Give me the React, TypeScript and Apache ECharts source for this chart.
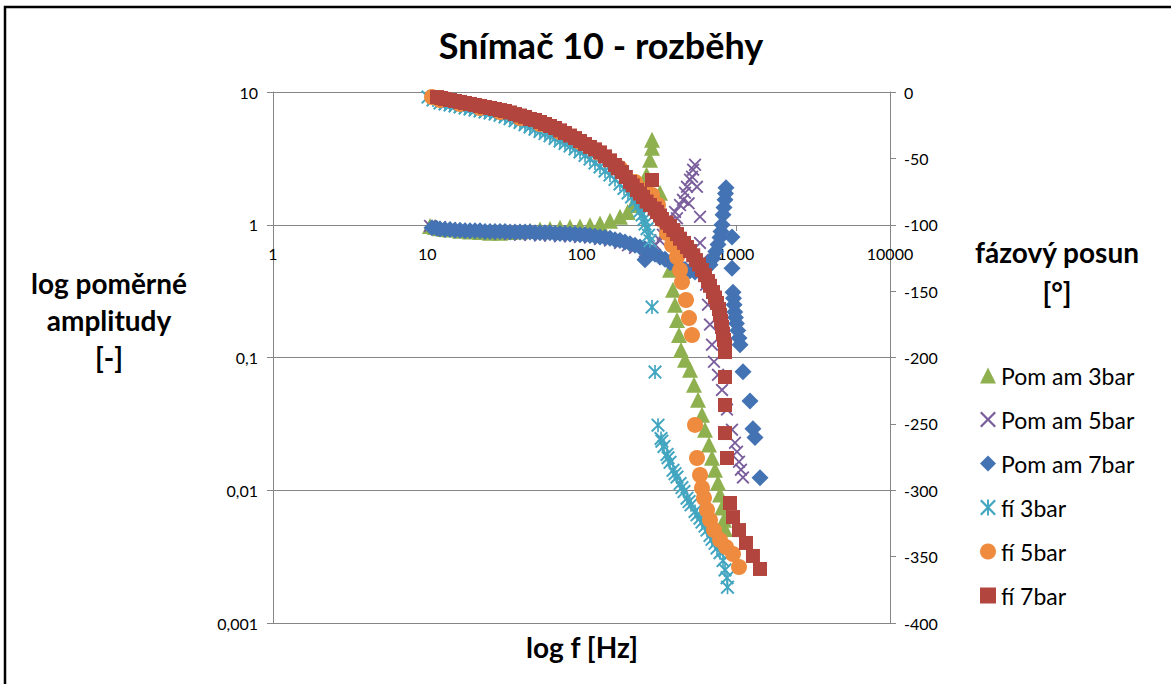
import React, { useEffect, useRef } from "react";
import * as echarts from "echarts";

const chartTitle = "Snímač 10 - rozběhy";
const seriesNames = ["Pom am 3bar", "Pom am 5bar", "Pom am 7bar", "fí 3bar", "fí 5bar", "fí 7bar"];
const seriesColors = ["#8FB04F", "#7A5E9C", "#4473B4", "#43A6C0", "#EE8B3E", "#B3453F"];
const freqTickLabels = ["1", "10", "100", "1000", "10000"];
const ampTickLabels = ["0,001", "0,01", "0,1", "1", "10"];
const leftAxisName = ["log poměrné", "amplitudy", "[-]"];
const rightAxisName = ["fázový posun", "[°]"];
const bottomAxisName = "log f [Hz]";

// Pom am 3bar (amplitude ratio, left log axis)
const pomAm3Freq = [10.42, 11.22, 12.1, 13.04, 14.05, 16.31, 18.93, 21.98, 25.52, 29.63, 34.4, 39.94, 46.37, 53.83, 62.5, 72.55, 84.23, 97.79, 113.5, 131.8, 153, 177.6, 199, 215, 231, 247, 264, 278, 286.5, 286.5, 322.8, 352, 374.8, 391.9, 403.9, 415.9, 428.7, 441.8, 468.9, 505.3, 536, 569, 604.2, 631.9, 670.8, 701.5, 733.7, 767, 790.6, 814.6, 838.9, 851.9];
const pomAm3Val = [0.98, 0.96, 0.94, 0.93, 0.92, 0.9, 0.89, 0.88, 0.87, 0.87, 0.88, 0.89, 0.9, 0.92, 0.93, 0.95, 0.96, 0.97, 0.99, 1.02, 1.07, 1.15, 1.25, 1.41, 1.65, 1.97, 2.38, 3.09, 3.8, 4.37, 1.74, 0.9, 0.458, 0.324, 0.25, 0.192, 0.148, 0.114, 0.096, 0.081, 0.0623, 0.048, 0.037, 0.0286, 0.0221, 0.0176, 0.0143, 0.0114, 0.0093, 0.0074, 0.006, 0.0051];

// Pom am 5bar
const pomAm5Freq = [10.42, 12.1, 14.05, 16.31, 18.93, 21.98, 25.52, 29.63, 34.4, 39.94, 46.37, 53.83, 62.5, 72.55, 84.23, 97.79, 113.5, 131.8, 153, 177.6, 200, 222.3, 258, 278, 299.6, 322.8, 337, 374.8, 403.9, 416, 435.2, 455, 468.9, 483, 495, 505.3, 521, 529, 544.4, 560, 586.6, 586.6, 613.5, 641.6, 660.9, 681, 701.5, 722.7, 767, 814.6, 877.6, 945.6, 988.8, 1018.8, 1050, 1081, 1114];
const pomAm5Val = [0.98, 0.96, 0.94, 0.93, 0.91, 0.89, 0.87, 0.86, 0.85, 0.84, 0.84, 0.83, 0.83, 0.82, 0.82, 0.81, 0.8, 0.78, 0.76, 0.73, 0.7, 0.67, 0.63, 0.66, 0.71, 0.76, 0.84, 1.05, 1.25, 1.12, 1.41, 1.54, 1.74, 1.93, 1.45, 2.18, 2.3, 2.6, 2.83, 1.93, 1.15, 0.73, 0.545, 0.353, 0.25, 0.177, 0.125, 0.093, 0.074, 0.057, 0.0405, 0.0286, 0.0228, 0.0195, 0.0164, 0.0143, 0.0125];

// Pom am 7bar
const pomAm7Freq = [10.73, 11.5, 12.1, 13.04, 14.05, 15.13, 16.31, 17.57, 18.93, 20.39, 21.98, 23.68, 25.52, 27.5, 29.63, 31.92, 34.4, 37.07, 39.94, 43.02, 46.37, 49.94, 53.83, 57.99, 62.5, 67.33, 72.55, 78.17, 84.23, 90.77, 97.79, 105.4, 113.5, 122.3, 131.8, 142, 153, 164.9, 177.6, 191.4, 206.2, 222.3, 239.4, 258, 258, 278, 299.6, 322.8, 347.8, 374.8, 403.9, 435.2, 468.9, 505.3, 544.4, 586.6, 631.9, 681, 712, 742, 767, 790.6, 802.5, 814.6, 826.7, 839, 851.9, 858, 864.8, 945.6, 945.6, 960, 967, 975, 985, 995, 1010, 1030, 1050, 1066, 1114, 1237, 1293, 1333, 1436];
const pomAm7Val = [0.95, 0.94, 0.93, 0.92, 0.92, 0.91, 0.91, 0.9, 0.9, 0.9, 0.9, 0.89, 0.89, 0.89, 0.89, 0.89, 0.88, 0.88, 0.88, 0.88, 0.88, 0.87, 0.87, 0.87, 0.87, 0.86, 0.86, 0.86, 0.85, 0.85, 0.84, 0.84, 0.83, 0.82, 0.81, 0.8, 0.79, 0.77, 0.76, 0.74, 0.72, 0.7, 0.68, 0.545, 0.66, 0.63, 0.6, 0.57, 0.55, 0.52, 0.5, 0.48, 0.46, 0.45, 0.44, 0.44, 0.46, 0.5, 0.56, 0.63, 0.71, 0.8, 0.89, 1.0, 1.19, 1.35, 1.54, 1.72, 1.9, 0.81, 0.47, 0.31, 0.28, 0.25, 0.22, 0.2, 0.18, 0.16, 0.14, 0.125, 0.078, 0.047, 0.029, 0.025, 0.0124];

// fí 3bar (phase, right axis)
const fi3Freq = [10.11, 10.9, 12.1, 13.04, 14.05, 15.13, 16.31, 17.57, 18.93, 20.39, 21.98, 23.68, 25.52, 27.5, 29.63, 31.92, 34.4, 37.07, 39.94, 43.02, 46.37, 49.94, 53.83, 57.99, 62.5, 67.33, 72.55, 78.17, 84.23, 90.77, 97.79, 105.4, 113.5, 122.3, 131.8, 142, 153, 164.9, 177.6, 188.6, 200.2, 211, 222.3, 231, 239.4, 247, 254.2, 258, 265.9, 272, 278, 286.5, 299.6, 313.3, 327.7, 332, 342.6, 358.3, 364, 374.8, 391.9, 404, 415.9, 435.2, 448, 461.9, 483.1, 498, 512.9, 544.4, 561, 586.6, 604, 631.9, 651, 681, 701, 733.7, 756, 790.6, 826.7, 851.9, 877.6, 884.3];
const fi3Phase = [-3.8, -6, -8.3, -9, -9.8, -10.5, -11.3, -12.1, -12.8, -13.6, -14.3, -15.1, -15.8, -16.6, -17.6, -18.9, -20.2, -21.6, -22.9, -24.6, -26.3, -28, -29.7, -31.3, -33, -35, -36.9, -38.8, -40.7, -42.9, -45.2, -47.8, -50.5, -53.5, -56.5, -59.5, -62.5, -65.9, -69.3, -72.7, -76.1, -79.1, -82.1, -85.9, -89.6, -92.6, -96, -99.5, -103, -108, -112, -162, -211, -251, -261, -263, -267, -273, -275.5, -279, -285, -287.5, -290, -295, -298, -301, -306, -308.5, -311, -316, -318.5, -321, -324, -327, -330, -334, -337, -340, -343.5, -347, -353, -360, -366, -373];

// fí 5bar
const fi5Freq = [10.73, 12.1, 16.31, 21.98, 29.63, 39.94, 53.83, 72.55, 97.79, 131.8, 177.6, 222.3, 258, 286.5, 313.3, 332.5, 358.3, 386.1, 415.9, 435.2, 448.3, 475.9, 497.6, 520.5, 544.4, 560.9, 586.6, 604.2, 622.6, 651, 681, 722.7, 790.6, 864.8, 959.9, 1050];
const fi5Phase = [-3.8, -6, -9, -12.1, -15.1, -19.6, -24.1, -30.1, -37.7, -46, -57.3, -67.8, -73.8, -77.6, -85.1, -96.4, -106.2, -115.3, -124.3, -134.1, -143.1, -156.7, -170.3, -183.1, -250.8, -275.7, -288.5, -298.3, -305.8, -314.9, -322.4, -330, -337.5, -342.8, -348, -357.8];

// fí 7bar
const fi7Freq = [11.57, 12.3, 13.04, 14.05, 15.13, 16.31, 17.57, 18.93, 20.39, 21.98, 23.68, 25.52, 27.5, 29.63, 31.92, 34.4, 37.07, 39.94, 43.02, 46.37, 49.94, 53.83, 57.99, 62.5, 67.33, 72.55, 78.17, 84.23, 90.77, 97.79, 105.4, 113.5, 122.3, 131.8, 142, 153, 164.9, 172, 183.1, 194, 206.2, 215, 229, 239.4, 250.4, 264, 286.5, 278, 298, 308.7, 322.8, 332.5, 356, 374.8, 394, 415.9, 435, 461.9, 483, 505.3, 530, 552.5, 578, 604.2, 632, 660.9, 681, 712.1, 734, 755.9, 779, 790.6, 803, 814.6, 827, 838.9, 851.9, 851.9, 851.9, 851.9, 851.9, 877.6, 917.9, 959.9, 1050, 1165, 1293, 1436];
const fi7Phase = [-3.8, -4.5, -5.3, -6, -6.8, -7.5, -8.3, -9, -9.8, -10.5, -11.3, -12, -12.8, -13.6, -14.3, -15.4, -16.6, -17.7, -18.8, -20.3, -21.1, -22.6, -24.1, -25.6, -27.1, -28.9, -30.9, -32.8, -34.7, -36.9, -39.2, -41.4, -43.2, -45.5, -48.5, -51.5, -55, -57.5, -60.3, -64, -67.8, -70.3, -73.8, -76.5, -79.1, -82.5, -66.3, -85.1, -87.8, -90.4, -93, -95.7, -98.4, -100.9, -104, -107, -110.5, -113.7, -116.8, -119.8, -123, -126.6, -130, -134.1, -138, -142.4, -146, -150.7, -154.8, -158.9, -163.5, -168, -172.5, -177, -182, -186.8, -191, -195.9, -214.7, -235.8, -256.9, -275.7, -309.6, -320.2, -330, -339.7, -349.5, -359.3];

const zip = (f: number[], v: number[]) => f.map((x, i) => [x, v[i]]);

const xSymbol = "path://M0,1L1,0L5,4L9,0L10,1L6,5L10,9L9,10L5,6L1,10L0,9L4,5Z";
const starSymbol = "path://M0,1L1,0L5,4L9,0L10,1L6,5L10,9L9,10L5,6L1,10L0,9L4,5ZM4.4,0L5.6,0L5.6,10L4.4,10Z";

export default function App() {
  const ref = useRef<HTMLDivElement>(null);
  useEffect(() => {
    document.body.style.margin = "0";
    const chart = echarts.init(ref.current!, null, { renderer: "svg" });
    const font = "Lato";
    const gray = "#868686";
    const datasets = [
      zip(pomAm3Freq, pomAm3Val),
      zip(pomAm5Freq, pomAm5Val),
      zip(pomAm7Freq, pomAm7Val),
      zip(fi3Freq, fi3Phase),
      zip(fi5Freq, fi5Phase),
      zip(fi7Freq, fi7Phase),
    ];
    const symbols = ["triangle", xSymbol, "diamond", starSymbol, "circle", "rect"];
    const sizes = [16, 13, 17, 14, 16, 14];
    const axisTextStyle = { fontFamily: font, fontSize: 16, color: "#000" };
    const nameStyle = (text: string, x: number, y: number, size: number, bold: boolean) => ({
      type: "text",
      x,
      y,
      silent: true,
      style: {
        text,
        fontFamily: font,
        fontSize: size,
        fontWeight: bold ? "bold" : "normal",
        fill: "#000",
        align: "center",
        verticalAlign: "middle",
        textAlign: "center",
        textVerticalAlign: "middle",
      },
    });
    const option = {
      animation: false,
      backgroundColor: "#fff",
      grid: { left: 273, top: 92, width: 617, height: 531 },
      legend: {
        orient: "vertical",
        left: 975,
        top: 359,
        itemWidth: 16,
        itemHeight: 16,
        itemGap: 21,
        data: seriesNames,
        textStyle: { fontFamily: font, fontSize: 23, color: "#000", lineHeight: 16 },
      },
      xAxis: {
        type: "log",
        logBase: 10,
        min: 1,
        max: 10000,
        position: "bottom",
        offset: -398,
        axisLine: { show: true, onZero: false, lineStyle: { color: gray, width: 1 } },
        axisTick: { show: true, length: 6, lineStyle: { color: gray } },
        axisLabel: {
          ...axisTextStyle,
          margin: 20,
          formatter: (v: number) => freqTickLabels[Math.round(Math.log10(v))],
        },
        splitLine: { show: false },
      },
      yAxis: [
        {
          type: "log",
          logBase: 10,
          min: 0.001,
          max: 10,
          position: "left",
          axisLine: { show: true, lineStyle: { color: gray, width: 1 } },
          axisTick: { show: true, length: 6, lineStyle: { color: gray } },
          axisLabel: {
            ...axisTextStyle,
            margin: 15,
            formatter: (v: number) => ampTickLabels[Math.round(Math.log10(v)) + 3],
          },
          splitLine: { show: true, lineStyle: { color: gray, width: 1 } },
        },
        {
          type: "value",
          min: -400,
          max: 0,
          interval: 50,
          position: "right",
          axisLine: { show: true, lineStyle: { color: gray, width: 1 } },
          axisTick: { show: true, length: 6, lineStyle: { color: gray } },
          axisLabel: { ...axisTextStyle, margin: 14 },
          splitLine: { show: false },
        },
      ],
      series: seriesNames.map((name, i) => ({
        name,
        type: "scatter",
        xAxisIndex: 0,
        yAxisIndex: i < 3 ? 0 : 1,
        data: datasets[i],
        symbol: symbols[i],
        symbolSize: sizes[i],
        itemStyle: { color: seriesColors[i], opacity: 1 },
        emphasis: { disabled: true },
      })),
      graphic: [
        {
          type: "rect",
          silent: true,
          shape: { x: 5, y: 7, width: 1200, height: 720 },
          style: { fill: "none", stroke: "#000", lineWidth: 2.5 },
        },
        nameStyle(chartTitle, 601, 45, 36, true),
        nameStyle(leftAxisName[0], 109, 283, 28, true),
        nameStyle(leftAxisName[1], 109, 320, 28, true),
        nameStyle(leftAxisName[2], 109, 357, 28, true),
        nameStyle(rightAxisName[0], 1057, 252, 28, true),
        nameStyle(rightAxisName[1], 1057, 292, 28, true),
        nameStyle(bottomAxisName, 582, 647, 28, true),
      ],
    };
    chart.setOption(option as any);
    return () => chart.dispose();
  }, []);
  return <div ref={ref} style={{ width: 1171, height: 684 }} />;
}
